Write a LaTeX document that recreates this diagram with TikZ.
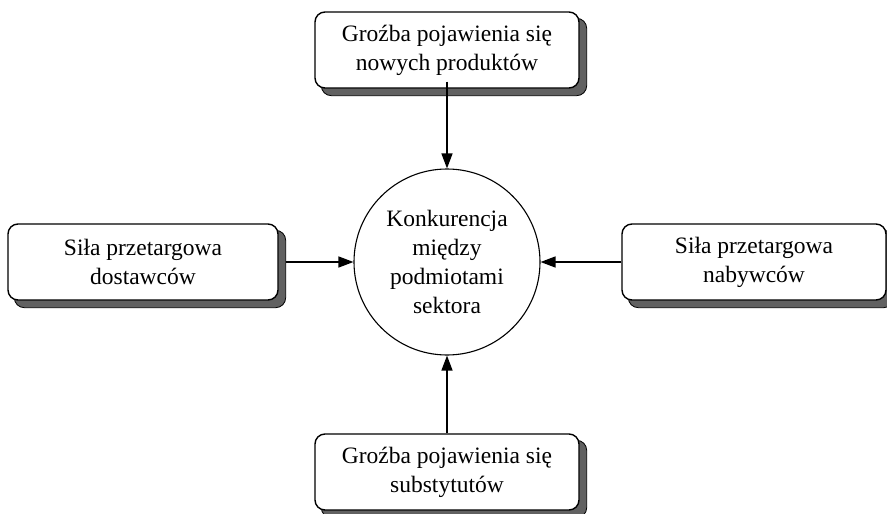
\documentclass[tikz,border=0pt]{standalone}
\usepackage{fontspec}
\setmainfont{Liberation Serif}
\usetikzlibrary{arrows.meta,backgrounds}
\begin{document}
\begin{tikzpicture}[x=1pt,y=-1pt,
  force/.style={draw=black, line width=1.4pt, fill=white, rounded corners=10pt,
    minimum width=264pt, minimum height=76pt, align=center,
    font=\fontsize{23.5}{29}\selectfont},
  shade/.style={fill=black!62, draw=black, line width=0.8pt, rounded corners=10pt},
  core/.style={draw=black, line width=1.1pt, circle, minimum size=186pt, align=center,
    inner sep=0pt, font=\fontsize{23.5}{29}\selectfont},
  link/.style={line width=1.4pt, -{Triangle[length=15pt,width=11pt]}}]
\useasboundingbox (0,0) rectangle (887,514);
\node[core] (c) at (447,262) {Konkurencja\\między\\podmiotami\\sektora};
\node[force] (t) at (447,50) {Groźba pojawienia się\\nowych produktów};
\node[force, minimum width=270pt] (l) at (143,262) {Siła przetargowa\\dostawców};
\node[force] (r) at (754,262) {Siła przetargowa\\nabywców};
\node[force] (b) at (447,472) {Groźba pojawienia się\\substytutów};
\begin{scope}[on background layer]
  \foreach \n in {t,l,r,b}
    \draw[shade] ([shift={(7,7)}]\n.north west) rectangle ([shift={(7,7)}]\n.south east);
\end{scope}
\draw[link] ([yshift=7pt]t.south) -- (c.north);
\draw[link] ([xshift=7pt]l.east) -- (c.west);
\draw[link] (r.west) -- (c.east);
\draw[link] (b.north) -- (c.south);
\end{tikzpicture}
\end{document}
